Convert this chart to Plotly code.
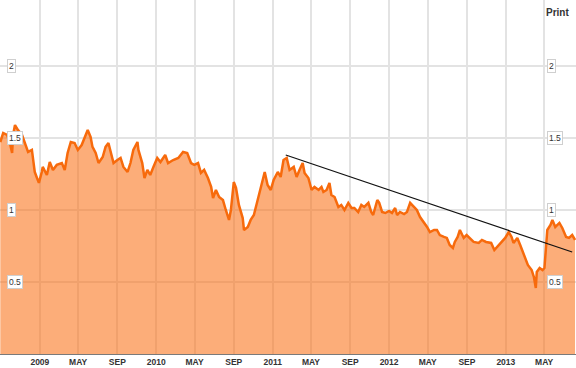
import plotly.graph_objects as go

dates = [
    "2008-08-30", "2008-09-08", "2008-09-20", "2008-09-29", "2008-10-06", "2008-10-09", "2008-10-15",
    "2008-10-24", "2008-11-06", "2008-11-15", "2008-11-25", "2008-12-07", "2008-12-10", "2008-12-16",
    "2008-12-23", "2008-12-29", "2009-01-07", "2009-01-10", "2009-01-23", "2009-02-01", "2009-02-11",
    "2009-02-23", "2009-03-11", "2009-03-20", "2009-03-29", "2009-04-08", "2009-04-20", "2009-04-30",
    "2009-05-12", "2009-05-21", "2009-05-31", "2009-06-09", "2009-06-15", "2009-06-25", "2009-07-04",
    "2009-07-17", "2009-07-26", "2009-08-04", "2009-08-11", "2009-08-20", "2009-09-01", "2009-09-11",
    "2009-09-20", "2009-10-03", "2009-10-12", "2009-10-21", "2009-11-03", "2009-11-06", "2009-11-18",
    "2009-11-25", "2009-12-04", "2009-12-13", "2009-12-23", "2010-01-04", "2010-01-14", "2010-01-29",
    "2010-02-07", "2010-02-23", "2010-03-11", "2010-03-26", "2010-04-08", "2010-04-20", "2010-04-30",
    "2010-05-12", "2010-05-21", "2010-05-31", "2010-06-12", "2010-06-22", "2010-06-28", "2010-07-07",
    "2010-07-17", "2010-07-29", "2010-08-07", "2010-08-17", "2010-08-23", "2010-09-01", "2010-09-08",
    "2010-09-17", "2010-09-29", "2010-10-03", "2010-10-15", "2010-10-24", "2010-11-03", "2010-11-15",
    "2010-11-25", "2010-12-07", "2010-12-16", "2010-12-26", "2011-01-04", "2011-01-17", "2011-01-26",
    "2011-02-04", "2011-02-14", "2011-02-23", "2011-03-08", "2011-03-17", "2011-03-26", "2011-04-05",
    "2011-04-11", "2011-04-23", "2011-05-03", "2011-05-12", "2011-05-25", "2011-06-03", "2011-06-09",
    "2011-06-19", "2011-06-28", "2011-07-04", "2011-07-14", "2011-07-26", "2011-08-04", "2011-08-14",
    "2011-08-26", "2011-09-05", "2011-09-14", "2011-09-26", "2011-10-06", "2011-10-15", "2011-10-28",
    "2011-11-06", "2011-11-12", "2011-11-25", "2011-12-01", "2011-12-10", "2011-12-20", "2012-01-01",
    "2012-01-10", "2012-01-20", "2012-01-26", "2012-02-04", "2012-02-17", "2012-02-26", "2012-03-07",
    "2012-03-19", "2012-03-28", "2012-04-07", "2012-04-19", "2012-04-29", "2012-05-08", "2012-05-21",
    "2012-05-30", "2012-06-08", "2012-06-21", "2012-06-30", "2012-07-09", "2012-07-19", "2012-07-25",
    "2012-08-03", "2012-08-10", "2012-08-22", "2012-08-31", "2012-09-10", "2012-09-22", "2012-10-08",
    "2012-10-18", "2012-10-31", "2012-11-16", "2012-11-26", "2012-12-05", "2012-12-18", "2012-12-30",
    "2013-01-10", "2013-01-19", "2013-01-25", "2013-02-06", "2013-02-15", "2013-02-24", "2013-03-02",
    "2013-03-11", "2013-03-23", "2013-03-30", "2013-04-05", "2013-04-08", "2013-04-17", "2013-04-26",
    "2013-05-02", "2013-05-08", "2013-05-11", "2013-05-21", "2013-05-27", "2013-06-05", "2013-06-18",
    "2013-06-27", "2013-07-09", "2013-07-18", "2013-07-28", "2013-08-06",
]

values = [
    1.472, 1.535, 1.521, 1.465, 1.396, 1.521, 1.590,
    1.556, 1.521, 1.465, 1.403, 1.417, 1.368, 1.264,
    1.222, 1.188, 1.264, 1.299, 1.243, 1.333, 1.278,
    1.313, 1.326, 1.278, 1.396, 1.472, 1.465, 1.417,
    1.451, 1.507, 1.556, 1.507, 1.438, 1.396, 1.326,
    1.368, 1.438, 1.465, 1.396, 1.326, 1.347, 1.361,
    1.299, 1.264, 1.326, 1.417, 1.472, 1.417, 1.326,
    1.222, 1.278, 1.243, 1.299, 1.361, 1.333, 1.382,
    1.326, 1.347, 1.361, 1.403, 1.396, 1.326, 1.313,
    1.326, 1.257, 1.278, 1.222, 1.160, 1.083, 1.139,
    1.090, 1.069, 1.000, 0.931, 1.000, 1.194, 1.153,
    1.035, 0.944, 0.861, 0.882, 0.931, 0.965, 1.069,
    1.174, 1.264, 1.174, 1.139, 1.208, 1.264, 1.229,
    1.347, 1.361, 1.278, 1.299, 1.229, 1.278, 1.326,
    1.257, 1.222, 1.139, 1.160, 1.139, 1.160, 1.125,
    1.139, 1.188, 1.104, 1.090, 1.021, 1.035, 1.000,
    1.049, 1.014, 1.014, 0.986, 1.035, 1.021, 1.049,
    0.986, 0.965, 1.069, 1.049, 0.986, 0.979, 0.993,
    0.979, 1.014, 0.965, 0.986, 0.972, 0.986, 1.049,
    1.021, 1.000, 0.951, 0.917, 0.882, 0.847, 0.861,
    0.861, 0.826, 0.813, 0.806, 0.757, 0.736, 0.778,
    0.813, 0.861, 0.806, 0.826, 0.806, 0.778, 0.771,
    0.792, 0.778, 0.771, 0.722, 0.743, 0.778, 0.806,
    0.847, 0.813, 0.771, 0.806, 0.757, 0.708, 0.674,
    0.618, 0.583, 0.535, 0.458, 0.569, 0.597, 0.583,
    0.597, 0.743, 0.861, 0.896, 0.931, 0.882, 0.910,
    0.875, 0.813, 0.806, 0.826, 0.792,
]

trend_dates = ["2011-02-11", "2013-07-28"]
trend_values = [1.382, 0.708]

x_tick_vals = [
    "2009-01-01", "2009-05-01", "2009-09-01", "2010-01-01", "2010-05-01", "2010-09-01",
    "2011-01-01", "2011-05-01", "2011-09-01", "2012-01-01", "2012-05-01", "2012-09-01",
    "2013-01-01", "2013-05-01",
]
x_tick_text = ["2009", "MAY", "SEP", "2010", "MAY", "SEP", "2011", "MAY", "SEP",
               "2012", "MAY", "SEP", "2013", "MAY"]

y_tick_vals = [0.5, 1, 1.5, 2]
y_tick_text = ["0.5", "1", "1.5", "2"]

fig = go.Figure()
fig.add_trace(go.Scatter(
    x=dates, y=values, mode="lines",
    line=dict(color="#F76A0C", width=2.5),
    fill="tozeroy", fillcolor="rgba(250,110,20,0.57)",
    hoverinfo="skip", showlegend=False,
))
fig.add_trace(go.Scatter(
    x=trend_dates, y=trend_values, mode="lines",
    line=dict(color="#111111", width=1.2),
    hoverinfo="skip", showlegend=False,
))

label_font = dict(family="Liberation Sans, Arial, sans-serif", size=8.5, color="#333333")
for v, t in zip(y_tick_vals, y_tick_text):
    for xp in (7 / 576, 547 / 576):
        fig.add_annotation(
            x=xp, xref="paper", y=v, yref="y", text=t, showarrow=False,
            xanchor="left", yanchor="middle", font=label_font,
            bgcolor="white", bordercolor="#cfcfcf", borderwidth=1, borderpad=1,
        )

fig.add_annotation(
    x=557 / 576, xref="paper", y=355 / 354 - 13 / 354 + 0.0, yref="paper",
    text="<b>Print</b>", showarrow=False, xanchor="center", yanchor="middle",
    font=dict(family="Liberation Sans, Arial, sans-serif", size=10, color="#333333"),
)

fig.update_layout(
    width=576, height=368,
    margin=dict(l=0, r=0, t=0, b=14),
    paper_bgcolor="white", plot_bgcolor="white",
    xaxis=dict(
        type="date", range=["2008-08-29", "2013-08-09"],
        tickmode="array", tickvals=x_tick_vals, ticktext=x_tick_text,
        showgrid=True, gridcolor="#e3e3e3", gridwidth=1.5,
        showline=True, linecolor="#7a7a7a", linewidth=1,
        ticks="", ticklen=0,
        tickfont=dict(family="Liberation Sans, Arial, sans-serif", size=8.5, color="#333333",
                      weight="bold"),
        zeroline=False,
    ),
    yaxis=dict(
        range=[0, 2.458],
        tickmode="array", tickvals=y_tick_vals,
        showticklabels=False,
        showgrid=True, gridcolor="#e3e3e3", gridwidth=1.5,
        zeroline=False, showline=False, ticks="",
    ),
)

fig.write_html("out.html")
